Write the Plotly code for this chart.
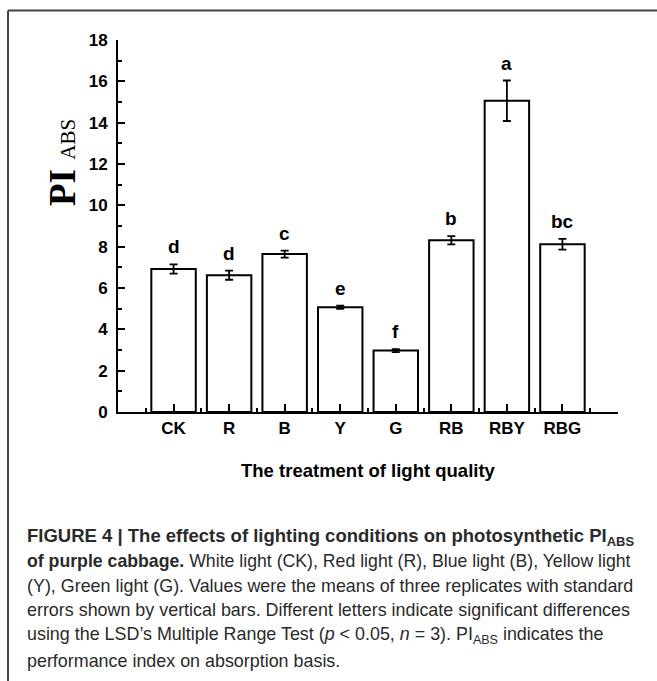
import plotly.graph_objects as go

categories = ["CK", "R", "B", "Y", "G", "RB", "RBY", "RBG"]
pi_abs = [6.92, 6.62, 7.64, 5.07, 2.97, 8.31, 15.06, 8.12]
pi_err = [0.22, 0.22, 0.17, 0.08, 0.07, 0.20, 0.98, 0.26]
letters = ["d", "d", "c", "e", "f", "b", "a", "bc"]

W, H = 657, 681
L, R, T, B = 118, 39, 40, 269
PW, PH = W - L - R, H - T - B

def px(xp):
    return (xp - L) / PW

def py(yp):
    return (H - B - yp) / PH

xpos = list(range(len(categories)))

fig = go.Figure()
fig.add_trace(go.Bar(
    x=xpos, y=pi_abs, width=0.8,
    marker=dict(color="white", line=dict(color="black", width=2)),
    error_y=dict(type="data", array=pi_err, visible=True, color="black",
                 thickness=1.8, width=4),
    showlegend=False,
))

annotations = []
for i, (v, e, t) in enumerate(zip(pi_abs, pi_err, letters)):
    annotations.append(dict(
        x=i, y=v + e, xref="x", yref="y", text=t, showarrow=False,
        yanchor="bottom", yshift=5,
        font=dict(family="Liberation Sans", size=19, color="black", weight="bold"),
    ))

# y-axis title
annotations.append(dict(
    x=px(62), y=py(163), xref="paper", yref="paper", showarrow=False,
    textangle=-90, xanchor="center", yanchor="middle",
    text="<b>PI</b> <span style='font-size:21px'>ABS</span>",
    font=dict(family="Liberation Serif", size=37, color="black"),
))
# x-axis title
annotations.append(dict(
    x=px(368), y=py(470), xref="paper", yref="paper", showarrow=False,
    xanchor="center", yanchor="middle",
    text="<b>The treatment of light quality</b>",
    font=dict(family="Liberation Sans", size=18.5, color="black"),
))

caption_lines = [
    "<b>FIGURE 4 | The effects of lighting conditions on photosynthetic PI<sub>ABS</sub></b>",
    "<b>of purple cabbage.</b> White light (CK), Red light (R), Blue light (B), Yellow light",
    "(Y), Green light (G). Values were the means of three replicates with standard",
    "errors shown by vertical bars. Different letters indicate significant differences",
    "using the LSD’s Multiple Range Test (<i>p</i> &lt; 0.05, <i>n</i> = 3). PI<sub>ABS</sub> indicates the",
    "performance index on absorption basis.",
]
caption_sizes = [18.5, 17.7, 17.9, 17.9, 17.9, 17.9]
caption_y = [537, 561, 586, 610, 635, 661]
for line, yy, fs in zip(caption_lines, caption_y, caption_sizes):
    annotations.append(dict(
        x=px(25), y=py(yy), xref="paper", yref="paper", showarrow=False,
        xanchor="left", yanchor="middle", align="left", text=line,
        font=dict(family="Liberation Sans", size=fs, color="#2a2a2a"),
    ))

shapes = [
    dict(type="line", xref="paper", yref="paper", x0=px(8), x1=px(660),
         y0=py(10.5), y1=py(10.5), line=dict(color="#444", width=2)),
    dict(type="line", xref="paper", yref="paper", x0=px(8), x1=px(8),
         y0=py(10.5), y1=py(690), line=dict(color="#444", width=2)),
]

tickfont = dict(family="Liberation Sans", size=17, color="black", weight="bold")

fig.update_layout(
    width=W, height=H,
    margin=dict(l=L, r=R, t=T, b=B),
    plot_bgcolor="white", paper_bgcolor="white",
    annotations=annotations, shapes=shapes,
    bargap=0.2,
    xaxis=dict(
        range=[-1, 8], tickmode="array",
        tickvals=xpos + [8], ticktext=categories + [" "],
        ticks="inside", ticklen=8, tickwidth=2, tickcolor="black",
        showline=True, linecolor="black", linewidth=2, showgrid=False,
        zeroline=False, tickfont=tickfont, ticklabelstandoff=0,
        minor=dict(tickvals=[k - 0.5 for k in range(len(categories) + 1)],
                   ticks="inside", ticklen=4, tickwidth=2, tickcolor="black"),
    ),
    yaxis=dict(
        range=[0, 18], tickmode="array", tickvals=list(range(0, 19, 2)),
        ticks="inside", ticklen=7, tickwidth=2, tickcolor="black",
        showline=True, linecolor="black", linewidth=2, showgrid=False,
        zeroline=False, tickfont=tickfont, ticklabelstandoff=5,
        minor=dict(tickvals=list(range(1, 18, 2)), ticks="inside",
                   ticklen=4, tickwidth=2, tickcolor="black"),
    ),
)

fig.write_html("out.html", config={"displayModeBar": False},
               post_script="document.body.style.margin='0px';")
